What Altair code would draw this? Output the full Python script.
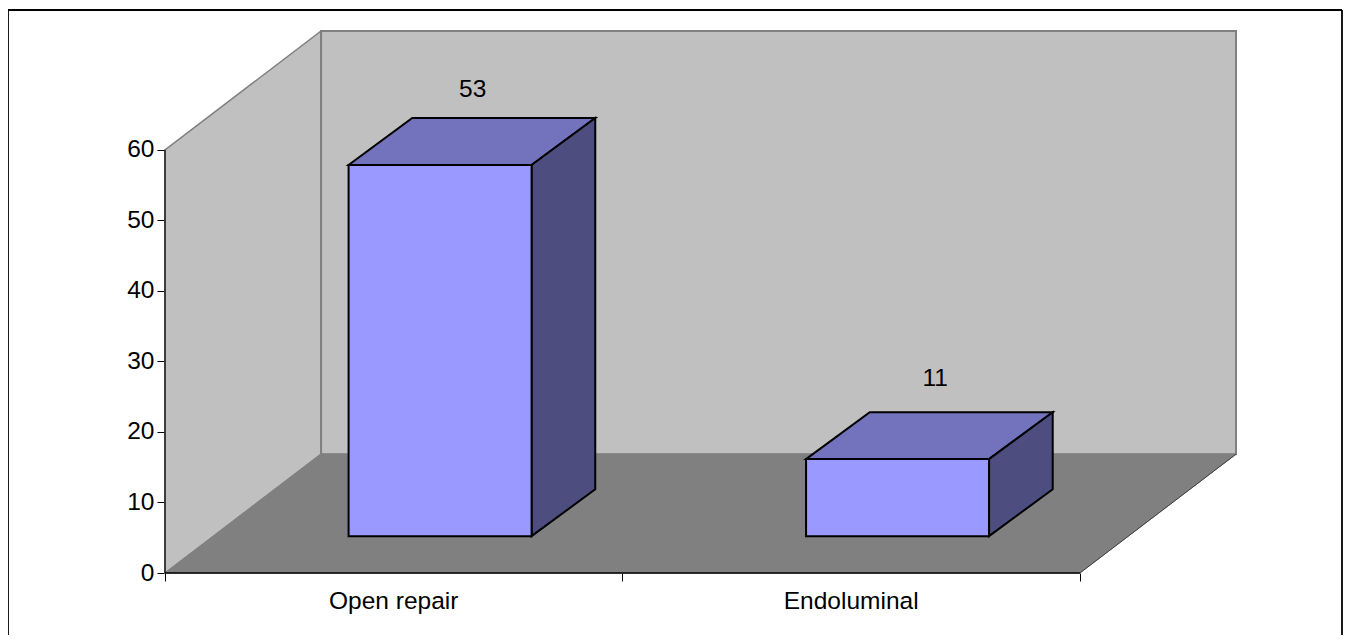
import altair as alt
import pandas as pd

categories = ["Open repair", "Endoluminal"]
values = [53, 11]
y_ticks = [0, 10, 20, 30, 40, 50, 60]
y_max = 60

# Oblique projection of the 3-D box: one unit of depth moves a point by
# DC categories to the right and by DV value units upwards.
DC = 156 / 457.25
DV = 118.7 / 7.045
BAR_W = 0.4
DX0, DX1 = 0.297, 0.705
DY0, DY1 = 0.31, 0.705
BAR_SCALE = 0.993


def px(c, d):
    return c + d * DC


def py(v, d):
    return v + d * DV


def face(name, verts):
    return pd.DataFrame(
        [{"face": name, "x": x, "lo": lo, "hi": hi} for x, lo, hi in verts]
    )


x_scale = alt.Scale(domain=[0, 2 + DC], nice=False, zero=False)
y_scale = alt.Scale(domain=[0, y_max + DV], nice=False, zero=False)
x_axis = alt.Axis(
    values=[0, 1, 2], labels=False, title=None, domain=False, grid=False,
    tickColor="#000000", tickSize=8, tickWidth=1,
)
y_axis = alt.Axis(
    values=y_ticks, title=None, domain=False, grid=False, tickColor="#000000",
    tickSize=8, tickWidth=1, labelFont="Liberation Sans", labelFontSize=24.5,
    labelColor="#000000", labelPadding=3, format="d",
)


def X(field="x:Q"):
    return alt.X(field, scale=x_scale, axis=x_axis)


def Y(field="y:Q"):
    return alt.Y(field, scale=y_scale, axis=y_axis, stack=None)


def layer(df, fill, stroke, width):
    return (
        alt.Chart(df)
        .mark_area(
            orient="vertical", fill=fill, stroke=stroke, strokeWidth=width,
            opacity=1, clip=False, strokeJoin="miter",
        )
        .encode(x=X(), y=Y("lo:Q"), y2="hi:Q", detail="face:N")
    )


wall_left = face("left", [(px(0, 0), 0, y_max), (px(0, 1), DV, y_max + DV)])
wall_back = face("back", [(px(0, 1), DV, y_max + DV), (px(2, 1), DV, y_max + DV)])
floor = face(
    "floor",
    [(px(0, 0), 0, 0), (px(0, 1), 0, DV), (px(2, 0), 0, DV), (px(2, 1), DV, DV)],
)

tops, sides, fronts = [], [], []
for i, v in enumerate(values):
    h = v * BAR_SCALE
    c0 = i + 0.5 - BAR_W / 2
    c1 = i + 0.5 + BAR_W / 2
    y0, y1 = py(0, DY0), py(h, DY0)
    xl, xr = px(c0, DX0), px(c1, DX0)
    dx, dy = (DX1 - DX0) * DC, (DY1 - DY0) * DV
    fronts.append(face(f"f{i}", [(xl, y0, y1), (xr, y0, y1)]))
    sides.append(face(f"s{i}", [(xr, y0, y1), (xr + dx, y0 + dy, y1 + dy)]))
    tops.append(
        face(
            f"t{i}",
            [(xl, y1, y1), (xl + dx, y1, y1 + dy), (xr, y1, y1 + dy), (xr + dx, y1 + dy, y1 + dy)],
        )
    )

bars = []
for t, s, f in zip(tops, sides, fronts):
    bars += [
        layer(t, "#7373BD", "#000000", 2),
        layer(s, "#4D4D80", "#000000", 2),
        layer(f, "#9999FF", "#000000", 2),
    ]

vline = (
    alt.Chart(pd.DataFrame({"x": [0], "y": [0], "y2": [y_max]}))
    .mark_rule(color="#000000", strokeWidth=1.2)
    .encode(x=X(), y=Y(), y2="y2:Q")
)
hline = (
    alt.Chart(pd.DataFrame({"x": [0], "x2": [2], "y": [0]}))
    .mark_rule(color="#000000", strokeWidth=1.5)
    .encode(x=X(), x2="x2:Q", y=Y())
)
diag = (
    alt.Chart(pd.DataFrame({"x": [2, 2 + DC], "y": [0, DV]}))
    .mark_line(color="#404040", strokeWidth=1)
    .encode(x=X(), y=Y())
)

cat_df = pd.DataFrame({"c": categories, "x": [i + 0.5 for i in range(len(categories))]})
cat_text = (
    alt.Chart(cat_df)
    .mark_text(font="Liberation Sans", fontSize=24.5, color="#000000", align="center", baseline="middle")
    .encode(x=X(), y=alt.value(571), text="c:N")
)

val_df = pd.DataFrame(
    {
        "x": [i * 1.0109 + 0.5 + 0.506 * DC for i in range(len(values))],
        "y": [v * 6.88 / 7.045 + 0.5 * DV + 8.3 for v in values],
        "t": [str(v) for v in values],
    }
)
val_text = (
    alt.Chart(val_df)
    .mark_text(font="Liberation Sans", fontSize=24.5, color="#000000", align="center", baseline="middle")
    .encode(x=X(), y=Y(), text="t:N")
)


def frame_line(**kw):
    return (
        alt.Chart(pd.DataFrame({"a": [0]}))
        .mark_rule(color="#000000", strokeWidth=1.8)
        .encode(**kw)
    )


frame = [
    frame_line(x=alt.value(-157), y=alt.value(-21), y2=alt.value(640)),
    frame_line(x=alt.value(1177), y=alt.value(-21), y2=alt.value(640)),
    frame_line(x=alt.value(-157), x2=alt.value(1177), y=alt.value(-21)),
]

chart = alt.layer(
    layer(wall_left, "#C0C0C0", "#808080", 1.5),
    layer(wall_back, "#C0C0C0", "#808080", 2),
    layer(floor, "#808080", "#808080", 1),
    vline,
    hline,
    diag,
    *bars,
    cat_text,
    val_text,
    *frame,
).properties(
    width=1071,
    height=542,
    padding={"left": 157, "top": 23, "right": 108, "bottom": 62},
    autosize=alt.AutoSizeParams(type="none"),
    background="#FFFFFF",
).configure_view(stroke=None)

chart.save("out.html", embed_options={"renderer": "svg", "actions": False})
